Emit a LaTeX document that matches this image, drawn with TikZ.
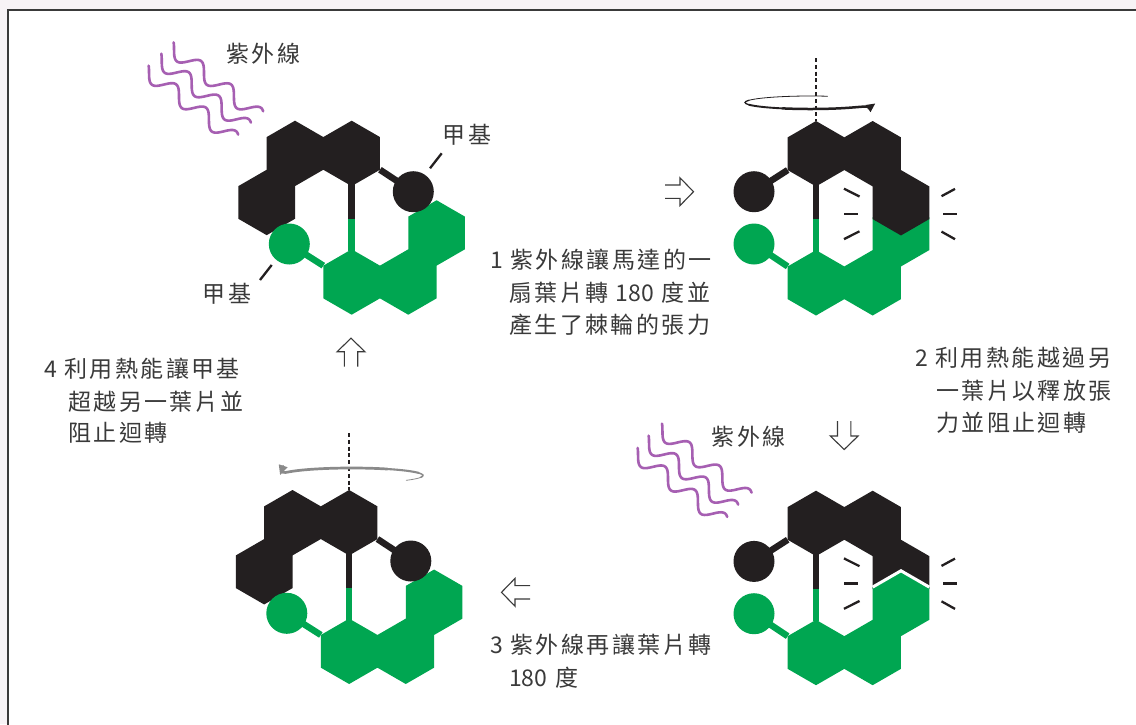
\documentclass[tikz,border=0pt]{standalone}
\usepackage{fontspec}
\setmainfont{Noto Sans CJK TC}[LetterSpace=10.5]
\usetikzlibrary{arrows.meta}

\definecolor{ink}{HTML}{231F20}
\definecolor{leaf}{HTML}{00A651}
\definecolor{uv}{HTML}{A65FB2}
\definecolor{txt}{HTML}{3A3A3A}
\definecolor{page}{HTML}{F7F3F6}
\definecolor{spin}{HTML}{8A8A8A}

% numbers are set without the extra tracking
\newcommand{\tightnum}[1]{{\addfontfeature{LetterSpace=0}#1}}

% hexagon geometry: circumradius, half width, half side
\newcommand{\hexR}{32.7}
\newcommand{\hexW}{28.32}
\newcommand{\hexQ}{16.35}
% pointy-top hexagon centred at (#1,#2), y pointing down
\newcommand{\hexcell}[2]{({#1},{(#2)-\hexR}) -- ++(\hexW,\hexQ) -- ++(0,\hexR) -- ++(-\hexW,\hexQ) -- ++(-\hexW,-\hexQ) -- ++(0,-\hexR) -- cycle}

% one wavy ultraviolet ray whose centre line starts at (#1,#2)
\newcommand{\uvwave}[2]{%
  \draw[uvline, shift={(#1,#2)}, rotate=-38]
    plot[domain=0:113, samples=120] (\x,{7.6*sin(9.4737*\x-45)});}

% outlined block arrow starting at (#1,#2), pointing at angle #3
\newcommand{\openarrow}[3]{%
  \draw[arrowline, shift={(#1,#2)}, rotate=#3]
    (0,-6.7) -- (15,-6.7) -- (15,-13.9) -- (28.5,0) -- (15,13.9) -- (15,6.7) -- (0,6.7);}

% vibration marks around the clashing blades
\newcommand{\strainmarks}{%
  \draw[mark line] (28,35) -- (43.5,42.8);
  \draw[mark line] (28,60.2) -- (41.5,60.2);
  \draw[mark line] (28,85.4) -- (43.5,77.6);
  \draw[mark line] (125.5,42.5) -- (139,35.2);
  \draw[mark line] (127,60.2) -- (140.5,60.2);
  \draw[mark line] (125.5,77.9) -- (139,85.5);}

% motor with the two blades interlocked (relaxed state)
\newcommand{\motorflat}{%
  \fill[ink] \hexcell{0}{0} \hexcell{56.64}{0} \hexcell{-28.32}{49.05};
  \draw[ink, line width=6.5] (56.64,25) -- (56.64,65.4);
  \draw[leaf, line width=6.5] (56.64,65.4) -- (56.64,98);
  \fill[leaf] \hexcell{56.64}{128.6} \hexcell{113.28}{128.6} \hexcell{141.6}{79.55};
  \draw[leaf, line width=6.5] (28.32,112.25) -- (-5.7,90.6);
  \fill[leaf] (-5.7,90.6) circle[radius=20.5];
  \draw[ink, line width=6.5] (84.96,16.35) -- (118.3,38.3);
  \fill[ink] (118.3,38.3) circle[radius=20.5];}

% blade parts of the twisted motor
\newcommand{\twistblack}{%
  \fill[ink] \hexcell{0}{0} \hexcell{56.64}{0} \hexcell{84.96}{49.05};}
\newcommand{\twistgreen}{%
  \fill[leaf] \hexcell{0}{129.1} \hexcell{56.64}{129.1} \hexcell{84.96}{80.05};}
\newcommand{\twistrest}{%
  \draw[ink, line width=6.5] (0,25) -- (0,65.4);
  \draw[leaf, line width=6.5] (0,65.4) -- (0,98);
  \draw[ink, line width=6.5] (-28.32,16.35) -- (-62,38);
  \fill[ink] (-62,38) circle[radius=20.5];
  \draw[leaf, line width=6.5] (-28.32,112.75) -- (-62,90.3);
  \fill[leaf] (-62,90.3) circle[radius=20.5];
  \strainmarks}

\begin{document}
\begin{tikzpicture}[x=1pt, y=-1pt,
  uvline/.style={uv, line width=2.6, line cap=round},
  arrowline/.style={txt, line width=1.1, line join=miter},
  mark line/.style={ink, line width=2.3},
  tick/.style={ink, line width=2.3},
  axis/.style={ink, line width=2, dash pattern=on 4pt off 2.8pt},
  label/.style={inner sep=0, anchor=base west, text=txt,
    font=\fontsize{23}{28}\selectfont}]

\useasboundingbox (0,0) rectangle (1136,724);
% page and panel frame
\fill[page] (0,0) rectangle (1136,724);
\fill[white] (8,10) rectangle (1136,724);
\draw[txt, line width=1.3] (8,725) -- (8,10) -- (1137,10);

% ---------- step 1: relaxed motor under UV light ----------
\uvwave{170.3}{46.6}
\uvwave{158}{57.9}
\uvwave{145.3}{69.9}
\begin{scope}[shift={(295,153.4)}]
  \motorflat
\end{scope}
\node[label] (uvA) at (226,62.5) {紫外線};
\node[label] (methylA) at (442.5,143.5) {甲基};
\node[label] (methylB) at (202.5,302.5) {甲基};
\coordinate (tickA1) at (441.7,153.3);
\coordinate (tickA2) at (430,168.3);
\coordinate (tickB1) at (271.7,265);
\coordinate (tickB2) at (260,280);
\draw[tick] (tickA1) -- (tickA2);
\draw[tick] (tickB1) -- (tickB2);

% ---------- step 2: blade turned, strained ----------
\coordinate (axisTop) at (816,58);
\coordinate (axisBot) at (816,121);
\draw[axis] (axisTop) -- (axisBot);
\begin{scope}[shift={(810.5,102.5)}, ink, line cap=round]
  \draw[line width=0.8] (285:65.5 and 6.5) arc[start angle=285, end angle=200, x radius=65.5, y radius=6.5];
  \draw[line width=1.3] (200:65.5 and 6.5) arc[start angle=200, end angle=160, x radius=65.5, y radius=6.5];
  \draw[line width=1.9] (160:65.5 and 6.5) arc[start angle=160, end angle=115, x radius=65.5, y radius=6.5];
  \draw[line width=2.5, -{Triangle[length=9pt,width=8pt]}] (115:65.5 and 6.5) arc[start angle=115, end angle=8, x radius=65.5, y radius=6.5];
\end{scope}
\begin{scope}[shift={(816,153.7)}]
  \twistgreen
  \twistblack
  \twistrest
\end{scope}

% ---------- step 3: blade turned again ----------
\uvwave{658.7}{427.9}
\uvwave{645.3}{439.9}
\uvwave{634.3}{452.2}
\node[label] (uvB) at (711.5,445.5) {紫外線};
\begin{scope}[shift={(816,523.4)}]
  \twistblack
  \twistgreen
  \draw[white, line width=3, line join=miter] (56.64,63.7) -- (84.96,47.35) -- (113.28,63.7);
  \twistrest
\end{scope}

% ---------- step 4: back to the relaxed form ----------
\coordinate (axis2Top) at (349.2,433);
\coordinate (axis2Bot) at (349.2,490);
\draw[axis] (axis2Top) -- (axis2Bot);
\begin{scope}[shift={(351.5,475.5)}, spin, line cap=round]
  \draw[line width=0.8] (40:71.5 and 7.5) arc[start angle=40, end angle=15, x radius=71.5, y radius=7.5];
  \draw[line width=1.5] (15:71.5 and 7.5) arc[start angle=15, end angle=-20, x radius=71.5, y radius=7.5];
  \draw[line width=2.1] (-20:71.5 and 7.5) arc[start angle=-20, end angle=-60, x radius=71.5, y radius=7.5];
  \draw[line width=2.7, -{Triangle[length=10pt,width=8.5pt]}] (-60:71.5 and 7.5) arc[start angle=-60, end angle=-178, x radius=71.5, y radius=7.5];
\end{scope}
\begin{scope}[shift={(292.5,522.7)}]
  \motorflat
\end{scope}

% ---------- cycle arrows ----------
\openarrow{665}{191.7}{0}
\openarrow{844.2}{421}{-90}
\openarrow{530}{592.3}{180}
\openarrow{351}{366.7}{90}

% ---------- captions ----------
\node[label] (s1a) at (490,268.5) {\tightnum{1} 紫外線讓馬達的一};
\node[label] (s1b) at (509,301) {扇葉片轉 \tightnum{180} 度並};
\node[label] (s1c) at (509,333.5) {產生了棘輪的張力};
\node[label] (s2a) at (915,366.5) {\tightnum{2} 利用熱能越過另};
\node[label] (s2b) at (936,399) {一葉片以釋放張};
\node[label] (s2c) at (936,431.5) {力並阻止迴轉};
\node[label] (s3a) at (490,653.5) {\tightnum{3} 紫外線再讓葉片轉};
\node[label] (s3b) at (509,686) {\tightnum{180} 度};
\node[label] (s4a) at (44,377.5) {\tightnum{4} 利用熱能讓甲基};
\node[label] (s4b) at (68,410) {超越另一葉片並};
\node[label] (s4c) at (68,441) {阻止迴轉};
\end{tikzpicture}
\end{document}
